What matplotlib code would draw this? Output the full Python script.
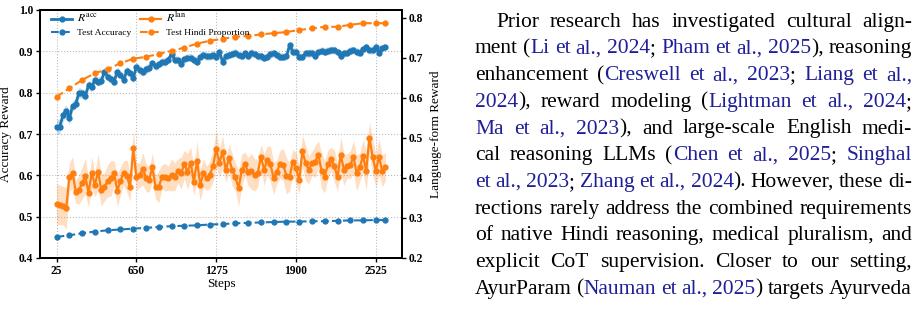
import numpy as np
import matplotlib
matplotlib.use("Agg")
import matplotlib.pyplot as plt

plt.rcParams['font.family'] = ['Liberation Serif', 'DejaVu Serif']
plt.rcParams['mathtext.fontset'] = 'stix'

# ---------------- data ----------------
train_step0, train_dstep = 25, 25
r_acc = [0.718,0.718,0.746,0.756,0.738,0.768,0.773,0.800,0.798,0.792,
         0.819,0.813,0.831,0.827,0.829,0.851,0.839,0.833,0.827,0.851,
         0.843,0.831,0.853,0.848,0.835,0.863,0.855,0.850,0.858,0.860,
         0.871,0.864,0.869,0.875,0.875,0.880,0.894,0.879,0.880,0.869,
         0.882,0.885,0.885,0.880,0.875,0.887,0.891,0.888,0.888,0.891,
         0.887,0.899,0.874,0.888,0.891,
         0.894,0.897,0.891,0.888,0.895,0.888,0.897,0.894,0.888,0.888,
         0.885,0.887,0.894,0.895,0.891,0.887,0.887,0.888,0.915,0.899,
         0.899,0.887,0.887,0.895,0.895,0.897,0.888,0.899,0.902,0.899,
         0.902,0.903,0.903,0.899,0.888,0.895,0.897,0.902,0.903,0.899,
         0.897,0.905,0.910,0.903,0.903,0.910,0.897,0.908,0.911]
r_acc_std = [0.018,0.017,0.015,0.014,0.015,0.013,0.012,0.013,0.011,0.012,
             0.011,0.011,0.010,0.011,0.011,0.012,0.011,0.010,0.011,0.011,
             0.010,0.011,0.011,0.010,0.011,0.010,0.011,0.010,0.010,0.011,
             0.009,0.010,0.010,0.009,0.010,0.010,0.011,0.010,0.009,0.010,
             0.010,0.009,0.010,0.010,0.009,0.010,0.009,0.010,0.009,0.010,
             0.009,0.011,0.011,0.010,0.009,
             0.009,0.010,0.009,0.009,0.010,0.009,0.010,0.009,0.009,0.010,
             0.009,0.009,0.010,0.009,0.009,0.010,0.009,0.009,0.011,0.010,
             0.009,0.010,0.009,0.009,0.010,0.009,0.010,0.009,0.009,0.010,
             0.009,0.009,0.010,0.009,0.010,0.009,0.009,0.010,0.009,0.010,
             0.009,0.010,0.010,0.009,0.010,0.010,0.010,0.009,0.009]
r_lan = [0.334,0.333,0.331,0.324,0.403,0.413,0.366,0.370,0.387,0.405,
         0.362,0.413,0.383,0.416,0.370,0.378,0.393,0.399,0.413,0.368,
         0.393,0.413,0.405,0.378,0.474,0.403,0.407,0.423,0.401,0.395,
         0.427,0.378,0.378,0.403,
         0.402,0.399,0.408,0.403,0.418,0.412,0.434,0.416,0.438,0.391,
         0.443,0.383,0.412,0.399,0.408,0.430,0.472,0.438,0.466,0.420,
         0.449,0.421,0.403,0.374,0.420,0.435,0.416,0.417,0.408,0.412,
         0.453,0.421,0.445,
         0.434,0.399,0.416,0.435,0.433,0.405,0.403,0.441,0.424,0.395,
         0.468,0.437,0.420,0.437,0.441,0.458,0.418,0.403,0.435,0.447,
         0.430,0.402,0.458,0.421,0.430,0.433,0.453,0.412,0.428,0.455,
         0.418,0.501,0.453,0.418,0.453,0.418,0.428]
r_lan_std = [0.050,0.050,0.048,0.052,0.035,0.040,0.030,0.035,0.040,0.045,
             0.035,0.040,0.030,0.045,0.040,0.035,0.040,0.045,0.030,0.040,
             0.035,0.030,0.040,0.035,0.045,0.035,0.030,0.040,0.035,0.030,
             0.035,0.030,0.040,0.030,0.035,0.030,0.040,0.035,0.030,0.040,
             0.035,0.045,0.040,0.035,0.050,0.040,0.035,0.030,0.035,0.040,
             0.045,0.035,0.040,0.030,0.035,0.040,0.035,0.045,0.040,0.030,
             0.035,0.045,0.040,0.035,0.030,0.040,0.035,0.045,0.040,0.030,
             0.035,0.040,0.045,0.035,0.030,0.040,0.035,0.040,0.045,0.035,
             0.030,0.040,0.035,0.045,0.040,0.035,0.030,0.040,0.035,0.045,
             0.040,0.030,0.035,0.040,0.045,0.035,0.040,0.050,0.040,0.045,
             0.040,0.045,0.040,0.035]
test_steps = [25,125,225,325,425,525,625,725,825,925,1025,1125,1225,1325,
              1425,1525,1625,1725,1825,1925,2025,2125,2225,2325,2425,2525,2600]
test_acc = [0.451,0.455,0.460,0.464,0.467,0.469,0.471,0.473,0.475,0.477,
            0.478,0.479,0.481,0.482,0.484,0.485,0.486,0.487,0.488,0.488,
            0.489,0.489,0.490,0.491,0.491,0.492,0.492]
test_hindi = [0.603,0.624,0.645,0.662,0.672,0.687,0.698,0.703,0.710,0.718,
              0.726,0.736,0.743,0.748,0.753,0.755,0.759,0.762,0.765,0.770,
              0.774,0.778,0.778,0.783,0.787,0.787,0.787]
x_ticks = [25, 650, 1275, 1900, 2525]
left_ticks = [0.4, 0.5, 0.6, 0.7, 0.8, 0.9, 1.0]
right_ticks = [0.2, 0.3, 0.4, 0.5, 0.6, 0.7, 0.8]

BLUE = '#1f77b4'
ORANGE = '#ff7f0e'

W, H = 920, 310
fig = plt.figure(figsize=(W/100, H/100), dpi=100)
ax = fig.add_axes([40/W, 1-258/H, (402-40)/W, (258-10)/H])
ax2 = ax.twinx()

steps = train_step0 + train_dstep*np.arange(len(r_acc))
ra = np.array(r_acc); rs = np.array(r_acc_std)
la = np.array(r_lan); ls = np.array(r_lan_std)

ax.fill_between(steps, ra-rs, ra+rs, color=BLUE, alpha=0.25, lw=0)
h1, = ax.plot(steps, ra, '-o', color=BLUE, lw=2.0, ms=3.5, label=r'$R^{\mathrm{acc}}$')
h3, = ax.plot(test_steps, test_acc, '--o', color=BLUE, lw=1.5, ms=3.5, label='Test Accuracy')

ax2.fill_between(steps, la-ls, la+ls, color=ORANGE, alpha=0.25, lw=0)
h2, = ax2.plot(steps, la, '-o', color=ORANGE, lw=1.6, ms=3.5, label=r'$R^{\mathrm{lan}}$')
h4, = ax2.plot(test_steps, test_hindi, '--o', color=ORANGE, lw=1.5, ms=3.5, label='Test Hindi Proportion')

ax.set_xlim(-105, 2730)
ax.set_ylim(0.4, 1.0)
ax2.set_ylim(0.2, 0.82)
ax.set_xticks(x_ticks)
ax.set_yticks(left_ticks)
ax2.set_yticks(right_ticks)
TFS = 8.3
ax.set_xticklabels([str(v) for v in x_ticks], fontweight='bold', fontsize=TFS)
ax.set_yticklabels([f'{v:.1f}' for v in left_ticks], fontweight='bold', fontsize=TFS)
ax2.set_yticklabels([f'{v:.1f}' for v in right_ticks], fontweight='bold', fontsize=TFS)
ax.tick_params(length=3, width=1, pad=2)
ax2.tick_params(length=3, width=1, pad=2)
ax.grid(True, ls=':', color='#bbbbbb', lw=0.8)
ax.set_axisbelow(True)
for a in (ax, ax2):
    for s in a.spines.values():
        s.set_linewidth(1.4)
ax.set_xlabel('Steps', fontsize=9.5, labelpad=1)
ax.set_ylabel('Accuracy Reward', fontsize=9.5)
ax2.set_ylabel('Language-form Reward', fontsize=9.5)
ax.yaxis.set_label_coords(-0.077, 0.5)
ax2.yaxis.set_label_coords(1.077, 0.5)

leg = ax2.legend([h1, h3, h2, h4], [h.get_label() for h in (h1, h3, h2, h4)],
                 ncol=2, loc='upper left', bbox_to_anchor=(0.029, 1.0), frameon=False,
                 fontsize=6.8, handlelength=2.2, columnspacing=0.9, labelspacing=0.35,
                 handletextpad=0.55, borderaxespad=0.0, borderpad=0.1)
for idx in (0, 2):
    leg.get_texts()[idx].set_fontsize(8.5)

# ---------------- paragraph text ----------------
K = 'black'
B = '#1f1f99'
para_lines = [
    [("Prior research has investigated cultural align-", K)],
    [("ment (", K), ("Li et al., 2024", B), (";", K), (" Pham et al., 2025", B), ("), reasoning", K)],
    [("enhancement (", K), ("Creswell et al., 2023", B), (";", K), (" Liang et al.,", B)],
    [("2024", B), ("), reward modeling (", K), ("Lightman et al., 2024", B), (";", K)],
    [("Ma et al., 2023", B), ("), and large-scale English medi-", K)],
    [("cal reasoning LLMs (", K), ("Chen et al., 2025", B), (";", K), (" Singhal", B)],
    [("et al., 2023", B), (";", K), (" Zhang et al., 2024", B), ("). However, these di-", K)],
    [("rections rarely address the combined requirements", K)],
    [("of native Hindi reasoning, medical pluralism, and", K)],
    [("explicit CoT supervision. Closer to our setting,", K)],
    [("AyurParam (", K), ("Nauman et al., 2025", B), (") targets Ayurveda", K)],
]
FS = 15.5
x_left, x_indent, x_right = 475, 496, 912
base0, lead = 26.7, 26.7

fig.canvas.draw()
rend = fig.canvas.get_renderer()

def tw(s):
    t = fig.text(0, 0, s, fontsize=FS)
    w = t.get_window_extent(rend).width
    t.remove()
    return w

def words_of(segs):
    words = [[]]
    for txt, col in segs:
        parts = txt.split(' ')
        for i, p in enumerate(parts):
            if i > 0 and words[-1]:
                words.append([])
            if p:
                words[-1].append((p, col))
    return [w for w in words if w]

for i, segs in enumerate(para_lines):
    words = words_of(segs)
    x0 = x_indent if i == 0 else x_left
    widths = [[tw(p) for p, _ in w] for w in words]
    total = sum(sum(w) for w in widths)
    gap = (x_right - x0 - total) / max(len(words) - 1, 1)
    y = 1 - (base0 + i*lead) / H
    x = x0
    for w, ws in zip(words, widths):
        for (p, col), pw in zip(w, ws):
            fig.text(x / W, y, p, fontsize=FS, color=col, va='baseline', ha='left')
            x += pw
        x += gap

fig.savefig('out.png', dpi=100)
